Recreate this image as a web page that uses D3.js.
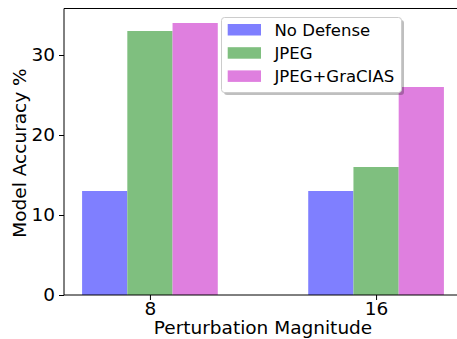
<!DOCTYPE html>
<html><head><meta charset="utf-8">
<script src="https://cdn.jsdelivr.net/npm/d3@7"></script>
<style>body{margin:0;background:#fff}svg{display:block}text{font-family:"DejaVu Sans",sans-serif;fill:#000}</style>
</head><body>
<svg id="c" width="457" height="339"></svg>
<script>
const categories = ["8", "16"];
const seriesNames = ["No Defense", "JPEG", "JPEG+GraCIAS"];
const noDefense = [13, 13];
const jpeg = [33, 16];
const jpegGracias = [34, 26];
const yTicks = [0, 10, 20, 30];
const colors = ["#7f7fff", "#7fbf7f", "#df7fdf"];

const series = [noDefense, jpeg, jpegGracias];
const svg = d3.select("#c");
const L = 64, T = 8.5, B = 295, R = 462;
const barW = 0.2;
const FS = 18.5, LFS = 16.5;
const x = d3.scaleLinear().domain([-0.38, 1.38]).range([L, R]);
const y = d3.scaleLinear().domain([0, 35.7]).range([B, 9.4]);

const g = svg.append("g");
series.forEach((vals, si) => {
  g.selectAll(null).data(vals).enter().append("rect")
    .attr("x", (d, i) => x(i + (si - 1) * barW - barW / 2))
    .attr("width", (d, i) => x(i + barW / 2) - x(i - barW / 2))
    .attr("y", d => y(d))
    .attr("height", d => B - y(d))
    .attr("fill", colors[si]);
});

// spines
svg.append("line").attr("x1", L).attr("x2", L).attr("y1", T).attr("y2", B).attr("stroke", "#000").attr("stroke-width", 1);
svg.append("line").attr("x1", L).attr("x2", R).attr("y1", B).attr("y2", B).attr("stroke", "#000").attr("stroke-width", 1);
svg.append("line").attr("x1", L).attr("x2", R).attr("y1", T).attr("y2", T).attr("stroke", "#000").attr("stroke-width", 1);

// y axis
const yAxis = d3.axisLeft(y).tickValues(yTicks).tickSize(5).tickPadding(4);
const ya = svg.append("g").attr("transform", `translate(${L},0)`).call(yAxis);
ya.select(".domain").remove();
ya.selectAll("text").attr("font-size", FS).attr("font-family", "DejaVu Sans").attr("fill", "#000");
ya.selectAll("line").attr("stroke", "#000");

// x axis
const xAxis = d3.axisBottom(x).tickValues([0, 1]).tickFormat((d) => categories[d]).tickSize(5).tickPadding(2);
const xa = svg.append("g").attr("transform", `translate(0,${B})`).call(xAxis);
xa.select(".domain").remove();
xa.selectAll("text").attr("font-size", FS).attr("font-family", "DejaVu Sans").attr("fill", "#000");
xa.selectAll("line").attr("stroke", "#000");

svg.append("text").attr("x", (L + R) / 2).attr("y", 334).attr("text-anchor", "middle").attr("font-size", FS).text("Perturbation Magnitude");
svg.append("text").attr("transform", `translate(25.5,153) rotate(-90)`).attr("text-anchor", "middle").attr("font-size", FS).text("Model Accuracy %");

// legend
const lx = 221.5, ly = 17.5, lw = 180, lh = 75;
svg.append("rect").attr("x", lx + 2.5).attr("y", ly + 2.5).attr("width", lw).attr("height", lh).attr("rx", 3).attr("fill", "#000").attr("opacity", 0.25);
svg.append("rect").attr("x", lx).attr("y", ly).attr("width", lw).attr("height", lh).attr("rx", 3).attr("fill", "#fff").attr("stroke", "#ccc").attr("stroke-width", 1);
seriesNames.forEach((n, i) => {
  const cy = 29.5 + i * 23.2;
  svg.append("rect").attr("x", 227.7).attr("y", cy - 5.5).attr("width", 33.3).attr("height", 11.5).attr("fill", colors[i]);
  svg.append("text").attr("x", 274.5).attr("y", cy + 6).attr("font-size", LFS).text(n);
});
</script>
</body></html>
